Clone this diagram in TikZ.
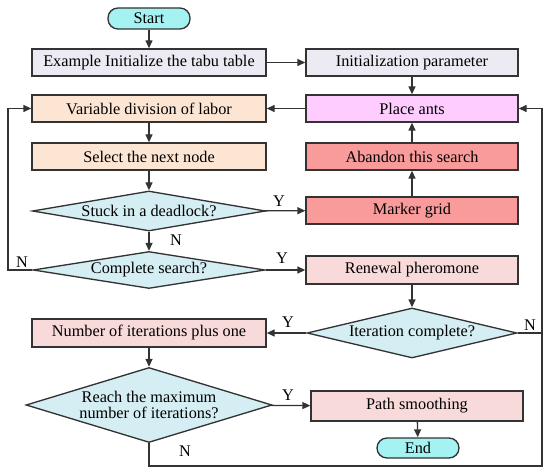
\documentclass[tikz,border=0pt]{standalone}
\usepackage{fontspec}
\setmainfont{Liberation Serif}
\usetikzlibrary{shapes.geometric,arrows.meta}
\newdimen\px \px=0.75pt
\definecolor{cstart}{HTML}{A5F2F3}
\definecolor{cdiam}{HTML}{D5EEF3}
\definecolor{cgrey}{HTML}{ECEAF2}
\definecolor{cpeach}{HTML}{FDE5D3}
\definecolor{cpink}{HTML}{FFCCFF}
\definecolor{csalmon}{HTML}{F99B9B}
\definecolor{clight}{HTML}{F9DADA}
\definecolor{cline}{HTML}{333333}
\begin{document}
\begin{tikzpicture}[x=0.75pt,y=-0.75pt,
  font=\fontsize{12.2}{13.6}\selectfont,
  box/.style={draw=cline, line width=1pt, minimum width=175.5pt, minimum height=20.25pt, inner sep=0pt},
  rbox/.style={box, minimum width=159pt},
  pill/.style={draw=cline, line width=1pt, minimum width=61.5pt, minimum height=15.75pt, inner sep=0pt, rounded corners=7.5pt, fill=cstart},
  dec/.style={draw=cline, line width=1pt, shape=diamond, inner sep=0pt, fill=cdiam, align=center},
  arr/.style={draw=cline, line width=1pt, -{Triangle[length=6pt,width=5.25pt]}},
  ln/.style={draw=cline, line width=1pt},
  lab/.style={inner sep=0pt}
]
\useasboundingbox (0,0) rectangle (550,474);

\node[pill] (start) at (149,18.5) {Start};
\node[box, fill=cgrey] (ex) at (149,62.5) {Example Initialize the tabu table};
\node[rbox, fill=cgrey] (init) at (412,62.5) {Initialization parameter};
\node[box, fill=cpeach] (var) at (149,108.5) {Variable division of labor};
\node[rbox, fill=cpink] (place) at (412,108.5) {Place ants};
\node[box, fill=cpeach] (sel) at (149,156.5) {Select the next node};
\node[rbox, fill=csalmon] (aband) at (412,156.5) {Abandon this search};
\node[dec, minimum width=174.75pt, minimum height=30pt, aspect=5.8] (stuck) at (149,211) {Stuck in a deadlock?};
\node[rbox, fill=csalmon] (marker) at (412,210.5) {Marker grid};
\node[dec, minimum width=174pt, minimum height=27.75pt, aspect=6.2] (comp) at (149,270) {Complete search?};
\node[rbox, fill=clight, minimum height=21pt] (renew) at (412,270) {Renewal pheromone};
\node[dec, minimum width=157.5pt, minimum height=37.5pt, aspect=4.2] (iter) at (412,333) {Iteration complete?};
\node[box, fill=clight, minimum height=21pt] (num) at (149,333) {Number of iterations plus one};
\node[dec, minimum width=184.5pt, minimum height=56.25pt, aspect=3.3, font=\fontsize{12.2}{12.6}\selectfont] (reach) at (149,405) {Reach the maximum\\number of iterations?};
\node[rbox, fill=clight, minimum height=22.5pt] (path) at (417,406) {Path smoothing};
\node[pill, minimum height=15pt] (end) at (418,448) {End};

\coordinate (lt) at (8,270);
\coordinate (lb) at (149,466);
\coordinate (rb) at (542,466);
\coordinate (rm) at (542,333);

\draw[arr] (start) -- (ex);
\draw[arr] (ex) -- (init);
\draw[arr] (init) -- (place);
\draw[arr] (place) -- (var);
\draw[arr] (var) -- (sel);
\draw[arr] (sel) -- (stuck);
\draw[arr] (stuck) -- (comp);
\draw[arr] (stuck) -- (marker);
\draw[arr] (marker) -- (aband);
\draw[arr] (aband) -- (place);
\draw[arr] (comp) -- (renew);
\draw[arr] (comp.west) -- (lt) |- (var.west);
\draw[arr] (renew) -- (iter);
\draw[arr] (iter) -- (num);
\draw[ln] (iter.east) -- (rm);
\draw[arr] (num) -- (reach);
\draw[arr] (reach) -- (path);
\draw[arr] (reach.south) -- (lb) -- (rb) |- (place.east);
\draw[arr] (path) -- (end);

\node[lab] (n1) at (176,240) {N};
\node[lab] (y1) at (279,201) {Y};
\node[lab] (n2) at (22,262) {N};
\node[lab] (y2) at (282,258) {Y};
\node[lab] (y3) at (288,322) {Y};
\node[lab] (n3) at (530,325) {N};
\node[lab] (y4) at (288,395) {Y};
\node[lab] (n4) at (185,451) {N};
\end{tikzpicture}
\end{document}
